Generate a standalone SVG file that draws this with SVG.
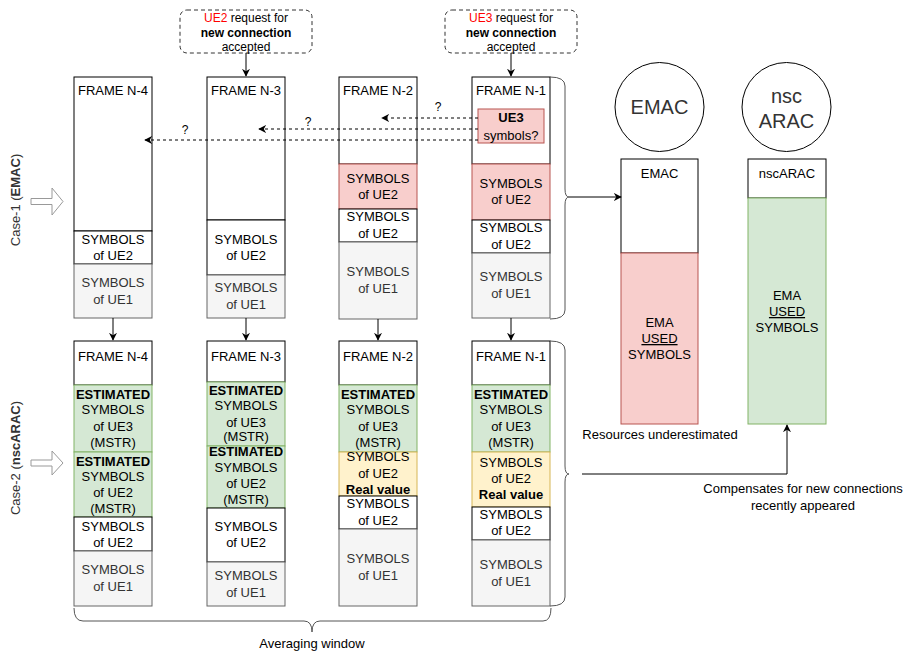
<svg xmlns="http://www.w3.org/2000/svg" width="908" height="654" viewBox="0 0 908 654">
  <style>
    text { font-family: "Liberation Sans", Arial, Helvetica, sans-serif; font-size: 13px; text-anchor: middle; fill: #000; }
    .sm { font-size: 12px; }
    .b { font-weight: bold; }
    .g { fill: #333; }
    .big { font-size: 20px; fill: #333; }
    .wh { fill: #fff; stroke: #000; stroke-width: 1; }
    .gy { fill: #f5f5f5; stroke: #666; stroke-width: 1; }
    .rd { fill: #f8cecc; stroke: #b85450; stroke-width: 1; }
    .gn { fill: #d5e8d4; stroke: #82b366; stroke-width: 1; }
    .yl { fill: #fff2cc; stroke: #d6b656; stroke-width: 1; }
    .call { fill: #fff; stroke: #333; stroke-width: 1; stroke-dasharray: 4 3; }
    .edge { fill: none; stroke: #000; stroke-width: 1; }
    .dash { fill: none; stroke: #000; stroke-width: 1; stroke-dasharray: 3 3; }
    .brace { fill: none; stroke: #555; stroke-width: 1; }
    .hollow { fill: #fff; stroke: #999; stroke-width: 1; }
    .red { fill: #ff0000; }
  </style>
  <defs>
    <marker id="arr" viewBox="0 0 10 10" refX="9" refY="5" markerWidth="8" markerHeight="8" markerUnits="userSpaceOnUse" orient="auto">
      <path d="M0,0 L10,5 L0,10 L3,5 Z" fill="#000"/>
    </marker>
  </defs>

  <!-- callouts -->
  <g id="ue2-request">
    <rect class="call" x="180" y="10" width="132" height="43" rx="7"/>
    <text class="sm" x="246" y="22"><tspan class="red">UE2</tspan> request for</text>
    <text class="sm b" x="246" y="37">new connection</text>
    <text class="sm" x="246" y="51">accepted</text>
  </g>
  <g id="ue3-request">
    <rect class="call" x="445" y="10" width="132" height="43" rx="7"/>
    <text class="sm" x="511" y="22"><tspan class="red">UE3</tspan> request for</text>
    <text class="sm b" x="511" y="37">new connection</text>
    <text class="sm" x="511" y="51">accepted</text>
  </g>

  <!-- case labels -->
  <g id="case1-label">
    <text class="g" transform="translate(20,200) rotate(-90)">Case-1 (<tspan class="b">EMAC</tspan>)</text>
    <path class="hollow" d="M31,198.5 H52 V188 L63,201.5 L52,215 V204.5 H31 Z"/>
  </g>
  <g id="case2-label">
    <text class="g" transform="translate(20,458) rotate(-90)">Case-2 (<tspan class="b">nscARAC</tspan>)</text>
    <path class="hollow" d="M31,460 H52 V451 L63,463 L52,475 V466 H31 Z"/>
  </g>

  <!-- Case-1 frames -->
  <g id="c1-frame-n4">
    <rect class="wh" x="74" y="77" width="78" height="154"/>
    <text x="113" y="95">FRAME N-4</text>
    <rect class="wh" x="74" y="231" width="78" height="33"/>
    <text x="113" y="244">SYMBOLS</text><text x="113" y="260">of UE2</text>
    <rect class="gy" x="74" y="264" width="78" height="54"/>
    <text class="g" x="113" y="287">SYMBOLS</text><text class="g" x="113" y="304">of UE1</text>
  </g>
  <g id="c1-frame-n3">
    <rect class="wh" x="207" y="77" width="78" height="143"/>
    <text x="246" y="95">FRAME N-3</text>
    <rect class="wh" x="207" y="220" width="78" height="55"/>
    <text x="246" y="244">SYMBOLS</text><text x="246" y="260">of UE2</text>
    <rect class="gy" x="207" y="275" width="78" height="43"/>
    <text class="g" x="246" y="292">SYMBOLS</text><text class="g" x="246" y="309">of UE1</text>
  </g>
  <g id="c1-frame-n2">
    <rect class="wh" x="339" y="77" width="78" height="87"/>
    <text x="378" y="95">FRAME N-2</text>
    <rect class="rd" x="339" y="164" width="78" height="45"/>
    <text x="378" y="183">SYMBOLS</text><text x="378" y="199">of UE2</text>
    <rect class="wh" x="339" y="209" width="78" height="33"/>
    <text x="378" y="221">SYMBOLS</text><text x="378" y="238">of UE2</text>
    <rect class="gy" x="339" y="242" width="78" height="77"/>
    <text class="g" x="378" y="276">SYMBOLS</text><text class="g" x="378" y="293">of UE1</text>
  </g>
  <g id="c1-frame-n1">
    <rect class="wh" x="472" y="77" width="78" height="87"/>
    <text x="511" y="95">FRAME N-1</text>
    <rect class="rd" x="472" y="164" width="78" height="56"/>
    <text x="511" y="188">SYMBOLS</text><text x="511" y="204">of UE2</text>
    <rect class="wh" x="472" y="220" width="78" height="33"/>
    <text x="511" y="232">SYMBOLS</text><text x="511" y="249">of UE2</text>
    <rect class="gy" x="472" y="253" width="78" height="65"/>
    <text class="g" x="511" y="281">SYMBOLS</text><text class="g" x="511" y="298">of UE1</text>
  </g>

  <!-- Case-2 frames -->
  <g id="c2-frame-n4">
    <rect class="wh" x="74" y="341" width="78" height="44"/>
    <text x="113" y="361">FRAME N-4</text>
    <rect class="gn" x="74" y="385" width="78" height="67"/>
    <text class="b" x="113" y="399">ESTIMATED</text><text x="113" y="414">SYMBOLS</text><text x="113" y="431">of UE3</text><text x="113" y="447">(MSTR)</text>
    <rect class="gn" x="74" y="452" width="78" height="65"/>
    <text class="b" x="113" y="466">ESTIMATED</text><text x="113" y="481">SYMBOLS</text><text x="113" y="497">of UE2</text><text x="113" y="513">(MSTR)</text>
    <rect class="wh" x="74" y="517" width="78" height="34"/>
    <text x="113" y="531">SYMBOLS</text><text x="113" y="547">of UE2</text>
    <rect class="gy" x="74" y="551" width="78" height="55"/>
    <text class="g" x="113" y="574">SYMBOLS</text><text class="g" x="113" y="591">of UE1</text>
  </g>
  <g id="c2-frame-n3">
    <rect class="wh" x="207" y="341" width="78" height="41"/>
    <text x="246" y="361">FRAME N-3</text>
    <rect class="gn" x="207" y="382" width="78" height="64"/>
    <text class="b" x="246" y="395">ESTIMATED</text><text x="246" y="410">SYMBOLS</text><text x="246" y="427">of UE3</text><text x="246" y="441">(MSTR)</text>
    <rect class="gn" x="207" y="446" width="78" height="62"/>
    <text class="b" x="246" y="456">ESTIMATED</text><text x="246" y="472">SYMBOLS</text><text x="246" y="488">of UE2</text><text x="246" y="504">(MSTR)</text>
    <rect class="wh" x="207" y="508" width="78" height="54"/>
    <text x="246" y="531">SYMBOLS</text><text x="246" y="547">of UE2</text>
    <rect class="gy" x="207" y="562" width="78" height="44"/>
    <text class="g" x="246" y="580">SYMBOLS</text><text class="g" x="246" y="597">of UE1</text>
  </g>
  <g id="c2-frame-n2">
    <rect class="wh" x="339" y="341" width="78" height="44"/>
    <text x="378" y="361">FRAME N-2</text>
    <rect class="gn" x="339" y="385" width="78" height="67"/>
    <text class="b" x="378" y="399">ESTIMATED</text><text x="378" y="414">SYMBOLS</text><text x="378" y="431">of UE3</text><text x="378" y="447">(MSTR)</text>
    <rect class="yl" x="339" y="452" width="78" height="44"/>
    <text x="378" y="461">SYMBOLS</text><text x="378" y="478">of UE2</text><text class="b" x="378" y="494">Real value</text>
    <rect class="wh" x="339" y="496" width="78" height="33"/>
    <text x="378" y="508">SYMBOLS</text><text x="378" y="525">of UE2</text>
    <rect class="gy" x="339" y="529" width="78" height="77"/>
    <text class="g" x="378" y="563">SYMBOLS</text><text class="g" x="378" y="580">of UE1</text>
  </g>
  <g id="c2-frame-n1">
    <rect class="wh" x="472" y="341" width="78" height="44"/>
    <text x="511" y="361">FRAME N-1</text>
    <rect class="gn" x="472" y="385" width="78" height="67"/>
    <text class="b" x="511" y="399">ESTIMATED</text><text x="511" y="414">SYMBOLS</text><text x="511" y="431">of UE3</text><text x="511" y="447">(MSTR)</text>
    <rect class="yl" x="472" y="452" width="78" height="55"/>
    <text x="511" y="467">SYMBOLS</text><text x="511" y="483">of UE2</text><text class="b" x="511" y="499">Real value</text>
    <rect class="wh" x="472" y="507" width="78" height="33"/>
    <text x="511" y="519">SYMBOLS</text><text x="511" y="535">of UE2</text>
    <rect class="gy" x="472" y="540" width="78" height="66"/>
    <text class="g" x="511" y="569">SYMBOLS</text><text class="g" x="511" y="586">of UE1</text>
  </g>

  <!-- EMAC / nscARAC summaries -->
  <g id="emac-circle">
    <circle cx="659.5" cy="107" r="44.5" fill="#fff" stroke="#000"/>
    <text class="big" x="659.5" y="114">EMAC</text>
  </g>
  <g id="nscarac-circle">
    <circle cx="786.5" cy="107" r="44.5" fill="#fff" stroke="#000"/>
    <text class="big" x="786.5" y="103">nsc</text>
    <text class="big" x="786.5" y="128">ARAC</text>
  </g>
  <g id="emac-bar">
    <rect class="wh" x="621" y="159" width="77" height="94"/>
    <text x="659.5" y="178">EMAC</text>
    <rect class="rd" x="621" y="253" width="77" height="171"/>
    <text x="659.5" y="327">EMA</text>
    <text x="659.5" y="343" text-decoration="underline">USED</text>
    <text x="659.5" y="359">SYMBOLS</text>
    <text x="660" y="439">Resources underestimated</text>
  </g>
  <g id="nscarac-bar">
    <rect class="wh" x="748" y="159" width="78" height="39"/>
    <text x="787" y="178">nscARAC</text>
    <rect class="gn" x="748" y="198" width="78" height="226"/>
    <text x="787" y="300">EMA</text>
    <text x="787" y="316" text-decoration="underline">USED</text>
    <text x="787" y="332">SYMBOLS</text>
  </g>

  <!-- UE3 unknown symbols -->
  <g id="ue3-symbols">
    <rect class="rd" x="478" y="109" width="66" height="34"/>
    <text class="b" x="511" y="122">UE3</text>
    <text x="511" y="140">symbols?</text>
  </g>

  <!-- connectors -->
  <g id="connectors">
    <path class="edge" d="M246,53 V76" marker-end="url(#arr)"/>
    <path class="edge" d="M511,53 V76" marker-end="url(#arr)"/>

    <path class="dash" d="M478,118 H382" marker-end="url(#arr)"/>
    <path class="dash" d="M478,129 H259" marker-end="url(#arr)"/>
    <path class="dash" d="M478,140 H145" marker-end="url(#arr)"/>
    <text class="sm" x="438" y="111">?</text>
    <text class="sm" x="308" y="126">?</text>
    <text class="sm" x="185" y="134">?</text>

    <path class="edge" d="M113,318 V340" marker-end="url(#arr)"/>
    <path class="edge" d="M246,318 V340" marker-end="url(#arr)"/>
    <path class="edge" d="M378,319 V340" marker-end="url(#arr)"/>
    <path class="edge" d="M511,318 V340" marker-end="url(#arr)"/>

    <!-- braces -->
    <path class="brace" d="M550,77 Q565,77 565,86 L565,189 Q565,197 569,197 Q565,197 565,205 L565,310 Q565,319 550,319"/>
    <path class="brace" d="M550,341 Q565,341 565,350 L565,466 Q565,474 569,474 Q565,474 565,482 L565,597 Q565,606 550,606"/>
    <path class="brace" d="M74,608 Q74,621 83,621 L304,621 Q312,621 312,632 Q312,621 320,621 L543,621 Q551,621 551,608"/>

    <path class="edge" d="M569,197 H621" marker-end="url(#arr)"/>
    <path class="edge" d="M582,474 H787 V425" marker-end="url(#arr)"/>

    <text x="312" y="648">Averaging window</text>
    <text x="803" y="493">Compensates for new connections</text>
    <text x="803" y="510">recently appeared</text>
  </g>
</svg>
